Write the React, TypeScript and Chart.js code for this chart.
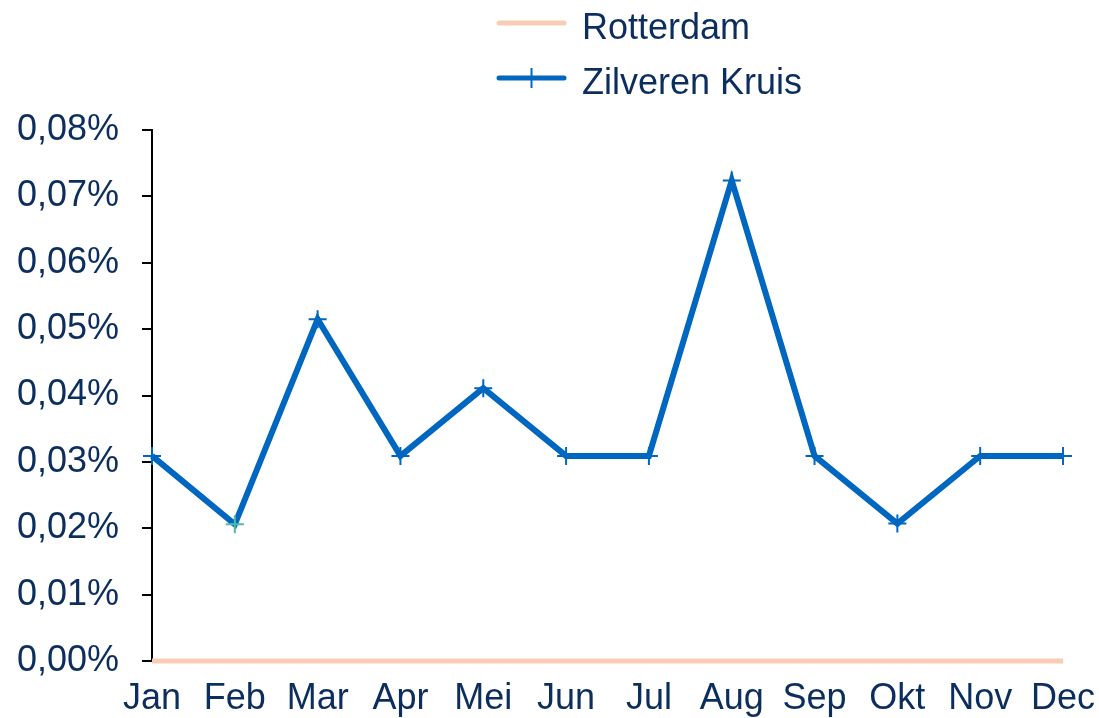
import React, { useEffect, useRef } from 'react';
import { Chart, registerables } from 'chart.js';

Chart.register(...registerables);

const months = ['Jan', 'Feb', 'Mar', 'Apr', 'Mei', 'Jun', 'Jul', 'Aug', 'Sep', 'Okt', 'Nov', 'Dec'];
const seriesNames = ['Rotterdam', 'Zilveren Kruis'];
const rotterdam = [0, 0, 0, 0, 0, 0, 0, 0, 0, 0, 0, 0];
const zilverenKruis = [0.0309, 0.0206, 0.0515, 0.0309, 0.0411, 0.0309, 0.0309, 0.0724, 0.0309, 0.0207, 0.0309, 0.0309];
const yTicks = [0, 0.01, 0.02, 0.03, 0.04, 0.05, 0.06, 0.07, 0.08];

const TEXT = '#0C2E5E';
const BLUE = '#0067C0';
const PEACH = '#F9CDB5';
const TEAL = '#4DBBA5';
const FONT = "'Liberation Sans', Arial, sans-serif";

const legendPlugin = {
  id: 'stackedLegend',
  afterDraw(chart: any) {
    const ctx = chart.ctx as CanvasRenderingContext2D;
    ctx.save();
    chart.data.datasets.forEach((ds: any, i: number) => {
      const lineY = 23 + i * 55;
      const x0 = 499;
      const x1 = 564;
      ctx.strokeStyle = ds.borderColor;
      ctx.lineWidth = 5;
      ctx.lineCap = 'round';
      ctx.beginPath();
      ctx.moveTo(x0, lineY);
      ctx.lineTo(x1, lineY);
      ctx.stroke();
      if (ds.pointRadius > 0) {
        const cx = (x0 + x1) / 2;
        ctx.lineCap = 'butt';
        ctx.lineWidth = 2;
        ctx.beginPath();
        ctx.moveTo(cx, lineY - 10);
        ctx.lineTo(cx, lineY + 10);
        ctx.stroke();
      }
      ctx.fillStyle = TEXT;
      ctx.font = `36px ${FONT}`;
      ctx.textBaseline = 'middle';
      ctx.textAlign = 'left';
      ctx.fillText(ds.label, 582, lineY + 6);
    });
    ctx.restore();
  },
};

export default function App() {
  const ref = useRef<HTMLCanvasElement | null>(null);

  useEffect(() => {
    if (!ref.current) return;
    const febIndex = months.indexOf('Feb');
    const chart = new Chart(ref.current, {
      type: 'line',
      data: {
        labels: months,
        datasets: [
          {
            label: seriesNames[0],
            data: rotterdam,
            borderColor: PEACH,
            backgroundColor: PEACH,
            borderWidth: 5,
            pointRadius: 0,
            borderCapStyle: 'butt',
            tension: 0,
            clip: 10,
          },
          {
            label: seriesNames[1],
            data: zilverenKruis,
            borderColor: BLUE,
            backgroundColor: BLUE,
            borderWidth: 6,
            tension: 0,
            pointStyle: 'cross',
            pointRadius: 9,
            pointBorderWidth: 2,
            pointBorderColor: months.map((_, i) => (i === febIndex ? TEAL : BLUE)),
            clip: 10,
          },
        ],
      },
      options: {
        animation: false,
        responsive: true,
        maintainAspectRatio: false,
        layout: { padding: { top: 130, right: 36, left: 0, bottom: 0 } },
        plugins: {
          legend: { display: false },
          tooltip: { enabled: false },
        },
        scales: {
          x: {
            offset: false,
            grid: { display: false, drawTicks: false },
            border: { display: false },
            ticks: {
              color: TEXT,
              font: { family: FONT, size: 36 },
              padding: 16,
              maxRotation: 0,
              autoSkip: false,
            },
            afterFit: (scale: any) => {
              scale.height = 57;
              scale.paddingRight = 0;
              scale.paddingLeft = 0;
            },
          },
          y: {
            min: 0,
            max: 0.08,
            grid: {
              display: true,
              drawOnChartArea: false,
              drawTicks: true,
              tickLength: 10,
              color: '#000000',
              lineWidth: 2,
            },
            border: { display: true, color: '#000000', width: 2 },
            afterBuildTicks: (scale: any) => {
              scale.ticks = yTicks.map((v) => ({ value: v }));
            },
            ticks: {
              color: TEXT,
              font: { family: FONT, size: 36 },
              padding: 23,
              callback: (v: any) => Number(v).toFixed(2).replace('.', ',') + '%',
            },
            afterFit: (scale: any) => {
              scale.width = 152;
            },
          },
        },
      },
      plugins: [legendPlugin],
    });
    return () => chart.destroy();
  }, []);

  return (
    <div style={{ position: 'fixed', left: 0, top: 0, width: 1099, height: 718, background: '#ffffff' }}>
      <canvas ref={ref} />
    </div>
  );
}
